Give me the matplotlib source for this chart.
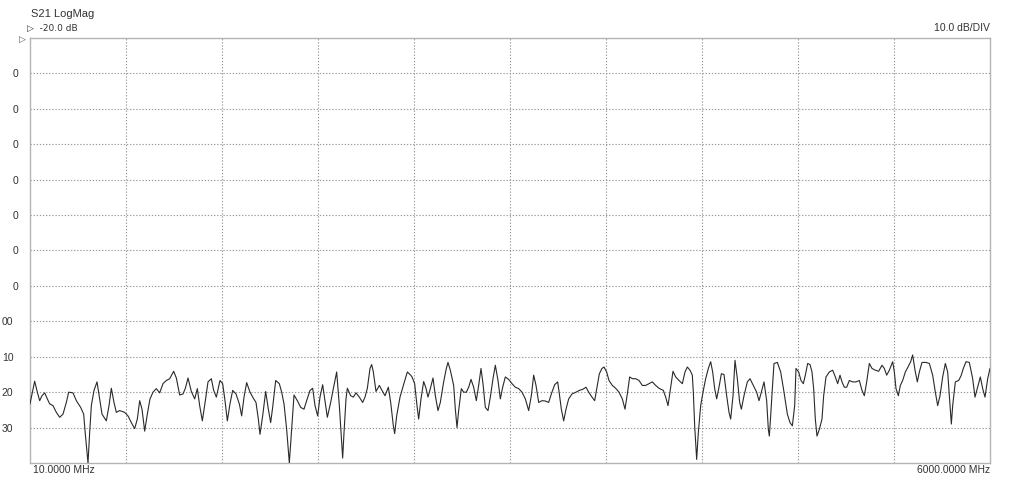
import matplotlib
matplotlib.use("Agg")
import matplotlib.pyplot as plt
from matplotlib.transforms import ScaledTranslation

# ---- data ----
freq_mhz = [
    10, 39.1, 55.7, 70.3, 84.9, 101.5, 118.1, 132.7, 153.5, 174.3, 195.1, 215.9, 236.7, 251.3,
    278.3, 299.1, 326.1, 344.9, 355.3, 371.9, 382.3, 392.7, 409.3, 428.1, 444.7, 459.3, 486.3,
    503.0, 517.5, 534.1, 548.7, 569.5, 600.7, 621.5, 642.3, 663.1, 679.7, 694.3, 708.9, 725.5,
    742.1, 758.8, 777.5, 798.3, 819.1, 839.9, 860.7, 881.5, 906.5, 923.1, 943.9, 964.7, 979.3,
    995.9, 1016.7, 1037.5, 1054.1, 1068.7, 1085.3, 1104.1, 1120.7, 1141.5, 1156.1, 1172.7,
    1195.5, 1212.1, 1226.7, 1241.3, 1257.9, 1274.5, 1295.3, 1316.1, 1330.7, 1345.3, 1361.9,
    1382.7, 1403.5, 1420.1, 1434.7, 1445.1, 1461.7, 1480.5, 1497.1, 1511.7, 1524.1, 1542.9,
    1565.7, 1580.3, 1594.9, 1611.5, 1628.1, 1642.7, 1657.3, 1678.1, 1698.9, 1719.7, 1736.3,
    1757.1, 1773.7, 1788.3, 1804.9, 1819.5, 1836.1, 1850.7, 1865.3, 1886.1, 1902.7, 1923.5,
    1940.1, 1954.7, 1960.9, 1969.3, 1981.7, 1990.1, 2010.9, 2027.5, 2044.1, 2064.9, 2085.7,
    2100.3, 2114.9, 2131.5, 2141.9, 2152.3, 2168.9, 2189.7, 2206.4, 2225.1, 2245.9, 2260.5,
    2277.1, 2285.4, 2297.9, 2318.7, 2339.5, 2364.5, 2385.3,
    2393.5, 2410.1, 2424.7, 2435.1, 2449.7, 2466.3, 2480.9, 2493.3, 2507.9, 2524.5, 2539.1,
    2555.7, 2570.3, 2591.1, 2607.7, 2618.1, 2632.7, 2653.5, 2663.9, 2674.3, 2684.7, 2701.3,
    2715.9, 2732.5, 2747.1, 2761.7, 2778.3, 2794.9, 2809.5, 2824.1, 2836.5, 2851.1, 2867.7,
    2882.3, 2898.9, 2913.5, 2930.1, 2944.7, 2959.3, 2975.9, 2996.7, 3017.5, 3038.3, 3059.1,
    3079.9, 3100.7, 3121.5, 3138.1, 3152.7, 3167.3, 3183.9, 3204.7, 3225.5, 3246.3, 3262.9,
    3283.7, 3302.5, 3312.9, 3325.3, 3339.9, 3354.5, 3371.1, 3391.9, 3416.9, 3437.7, 3458.5,
    3479.3, 3495.9, 3516.7, 3533.3, 3547.9, 3562.5, 3579.1,
    3591.5, 3608.1, 3622.7, 3643.5, 3664.3, 3685.1, 3705.9, 3722.5, 3737.1, 3751.7, 3768.3,
    3789.1, 3809.9, 3830.7, 3851.5, 3872.3, 3893.1, 3913.9, 3934.7, 3961.7, 3976.3, 3990.9,
    4003.3, 4022.1, 4038.7, 4059.5, 4080.3, 4096.9, 4111.5, 4128.1, 4142.7, 4148.9, 4157.3,
    4169.7, 4180.1, 4194.7, 4211.3, 4225.9, 4242.5, 4257.1, 4269.6, 4282.1, 4294.5, 4309.1,
    4323.7, 4340.3, 4356.9, 4371.5, 4381.9, 4396.5, 4408.9, 4423.5, 4438.1, 4448.5, 4465.1,
    4485.9, 4502.5, 4523.3, 4544.1, 4558.7, 4573.3, 4589.9, 4606.5, 4616.9, 4623.2, 4631.5,
    4641.9, 4652.3, 4673.1, 4693.9, 4714.7, 4735.5, 4752.1, 4766.7, 4781.3,
    4789.5, 4806.1, 4820.7, 4835.3, 4847.7, 4862.3, 4876.9, 4889.3, 4899.7, 4910.1, 4920.5,
    4935.1, 4951.7, 4962.1, 4976.7, 4997.5, 5018.3, 5034.9, 5049.5, 5064.1, 5076.5, 5091.1,
    5105.7, 5122.3, 5143.1, 5163.9, 5184.7, 5201.3, 5215.9, 5230.5, 5247.1, 5263.7, 5284.5,
    5305.3, 5326.1, 5340.7, 5355.3, 5371.9, 5392.7, 5403.1, 5413.5, 5428.1, 5440.5, 5455.1,
    5471.7, 5488.4, 5505.0, 5517.5, 5532.1, 5546.6, 5559.1, 5575.7, 5600.7, 5621.5, 5642.3,
    5658.9, 5673.5, 5688.1, 5704.7, 5721.3, 5735.9, 5750.5, 5758.8, 5767.1, 5783.7, 5804.5,
    5819.1, 5833.7, 5850.3, 5871.1, 5891.9, 5906.5, 5923.1, 5939.7, 5954.3, 5968.9, 5985.5,
    6000,
]

s21_db = [
    -123.3, -116.9, -120.0, -122.4, -121.0, -120.2, -121.9, -123.3, -123.8, -125.7, -127.1,
    -126.2, -122.9, -120.0, -120.2, -122.4, -124.3, -126.2, -131.9, -140.0, -131.4, -123.8,
    -119.5, -117.1, -121.9, -126.2, -128.1, -123.8, -118.9, -122.9, -125.7, -125.2, -125.7,
    -126.7, -128.6, -130.3, -127.6, -122.4, -124.8, -131.0, -126.2, -121.9, -120.0, -119.0,
    -120.2, -117.6, -116.7, -116.2, -114.1, -116.0, -120.8, -120.5, -118.9, -116.0, -119.8,
    -121.9, -119.0, -123.8, -128.1, -122.4, -117.1, -116.2, -119.5, -121.4,
    -116.7, -117.6, -122.4, -128.1, -123.3, -119.5, -120.5, -123.3, -126.7, -121.4, -117.3,
    -120.0, -121.7, -122.9, -127.6, -131.9, -126.7, -119.8, -124.8, -128.6, -124.3, -116.7,
    -117.6, -120.0, -123.3, -130.5, -140.0, -130.5, -120.8, -122.4, -124.3, -124.8, -122.4,
    -119.5, -118.9, -123.8, -126.7, -121.4, -117.9, -122.4, -127.1, -122.9, -119.0, -114.3,
    -123.8, -134.3, -138.6, -131.4, -121.9, -118.9, -121.0, -121.4, -120.2, -121.4, -122.9,
    -121.4, -118.9, -113.3, -112.2, -114.3, -119.8, -118.1, -119.5, -121.0, -118.6, -122.9,
    -129.5, -131.7, -126.7, -121.4, -118.1, -114.3, -115.2,
    -115.7, -117.6, -123.8, -127.6, -121.9, -117.0, -118.9, -121.4, -119.0, -116.0, -121.0,
    -125.2, -122.9, -117.1, -113.3, -111.6, -113.8, -118.1, -124.8, -130.0, -125.2, -119.0,
    -120.0, -120.0, -118.6, -116.4, -118.6, -122.4, -118.1, -113.3, -117.6, -124.3, -125.2,
    -121.4, -116.2, -112.4, -116.7, -121.9, -118.6, -115.7, -116.4, -117.6, -118.6, -119.0,
    -120.0, -121.9, -125.2, -121.0, -115.2, -118.1, -122.9, -122.4, -122.5, -122.9, -120.5,
    -117.9, -117.1, -120.5, -124.8, -128.1, -124.8, -121.9, -120.5, -120.0, -119.5, -119.2,
    -118.6, -120.0, -121.4, -122.4, -118.6, -114.8, -113.3,
    -112.9, -114.3, -116.7, -118.1, -118.9, -120.0, -121.9, -124.8, -120.5, -115.7, -116.2,
    -116.2, -116.7, -118.1, -118.1, -117.6, -117.1, -118.1, -118.9, -119.5, -121.4, -123.8,
    -120.0, -114.1, -115.7, -116.7, -117.6, -114.3, -112.9, -113.8, -115.2, -120.0, -129.5,
    -139.0, -131.4, -123.8, -119.5, -116.2, -113.3, -111.4, -114.3, -119.0, -121.9, -118.6,
    -114.8, -115.0, -121.0, -125.7, -127.6, -121.0, -111.0, -116.2, -122.9, -124.8, -121.0,
    -117.1, -116.2, -118.1, -120.0, -122.4, -120.0, -117.1, -122.4, -130.5, -132.4, -126.7,
    -119.0, -111.9, -111.6, -114.3, -120.0, -126.2, -128.6, -129.5, -123.8,
    -113.3, -114.3, -116.7, -117.6, -115.2, -111.9, -112.2, -114.3, -119.0, -127.6, -132.4,
    -130.5, -127.6, -121.0, -115.7, -114.3, -113.8, -115.7, -117.6, -115.2, -117.1, -118.6,
    -118.6, -116.7, -117.1, -117.1, -116.7, -119.5, -121.0, -117.1, -111.9, -113.3, -113.8,
    -114.1, -112.4, -113.3, -115.2, -113.8, -111.4, -114.3, -119.0, -121.0, -118.1, -116.7,
    -114.3, -112.9, -111.4, -109.5, -113.8, -117.1, -114.3, -111.6, -111.6, -111.9, -115.2,
    -120.0, -123.8, -121.0, -115.7, -111.9, -114.3, -123.8, -129.0, -123.8, -117.1, -116.7,
    -115.4, -113.3, -111.4, -111.6, -116.2, -121.4, -118.6, -115.7, -119.0, -121.4, -116.2,
    -113.3,
]

ref_level_db = -20.0
scale_db_per_div = 10.0
n_divs_y = 12
n_divs_x = 10
f_start = 10.0
f_stop = 6000.0
# the reference's left labels are cropped; only their last digits show
y_tick_values = [-30, -40, -50, -60, -70, -80, -90, -100, -110, -120, -130]
y_tick_labels = ["0", "0", "0", "0", "0", "0", "0", "00", "10", "20", "30"]

title_text = "S21 LogMag"
ref_text = "\u25b7  -20.0 dB"
scale_text = "10.0 dB/DIV"
start_text = "10.0000 MHz"
stop_text = "6000.0000 MHz"

# ---- figure ----
W, H = 1009, 479
fig = plt.figure(figsize=(W / 100, H / 100), dpi=100)
plt.rcParams['font.family'] = ['Liberation Sans', 'DejaVu Sans']

ax_l, ax_r, ax_t, ax_b = 30, 990, 38, 463
ax = fig.add_axes([ax_l / W, (H - ax_b) / H, (ax_r - ax_l) / W, (ax_b - ax_t) / H])

y_bottom = ref_level_db - n_divs_y * scale_db_per_div
ax.set_xlim(f_start, f_stop)
ax.set_ylim(y_bottom, ref_level_db)

grid_color = "#9a9a9a"
for k in range(1, n_divs_x):
    fx = f_start + k * (f_stop - f_start) / n_divs_x
    ax.axvline(fx, color=grid_color, lw=0.8, ls=(0, (1.2, 1.6)), zorder=1)
for yv in y_tick_values:
    ax.axhline(yv, color=grid_color, lw=0.8, ls=(0, (1.2, 1.6)), zorder=1)

ax.plot(freq_mhz, s21_db, color="#2a2a2a", lw=0.8, zorder=3)

for sp in ax.spines.values():
    sp.set_color("#b4b4b4")
    sp.set_linewidth(1.0)

ax.set_xticks([])
ax.set_yticks(y_tick_values)
ax.set_yticklabels(y_tick_labels)
ax.tick_params(axis="y", length=0, pad=12, labelsize=7.5, labelcolor="#333333")
# the single-digit labels sit a few pixels further right in the reference
shift = ScaledTranslation(5 / 100, 0, fig.dpi_scale_trans)
for lab, val in zip(ax.get_yticklabels(), y_tick_values):
    if val > -100:
        lab.set_transform(lab.get_transform() + shift)

txt_kw = dict(fontsize=7.5, color="#333333")
fig.text(31 / W, 1 - 14 / H, title_text, ha="left", va="center", **{**txt_kw, "fontsize": 8})
fig.text(27 / W, 1 - 28 / H, ref_text, ha="left", va="center",
         family=["DejaVu Sans"], fontsize=6.5, color="#333333")
fig.text(19 / W, 1 - 39 / H, "\u25b7", ha="left", va="center",
         family=["DejaVu Sans"], fontsize=6.5, color="#555555")
fig.text(990 / W, 1 - 28 / H, scale_text, ha="right", va="center", **txt_kw)
fig.text(33 / W, 1 - 470 / H, start_text, ha="left", va="center", **txt_kw)
fig.text(990 / W, 1 - 470 / H, stop_text, ha="right", va="center", **txt_kw)

fig.savefig("out.png", dpi=100, facecolor="white")
